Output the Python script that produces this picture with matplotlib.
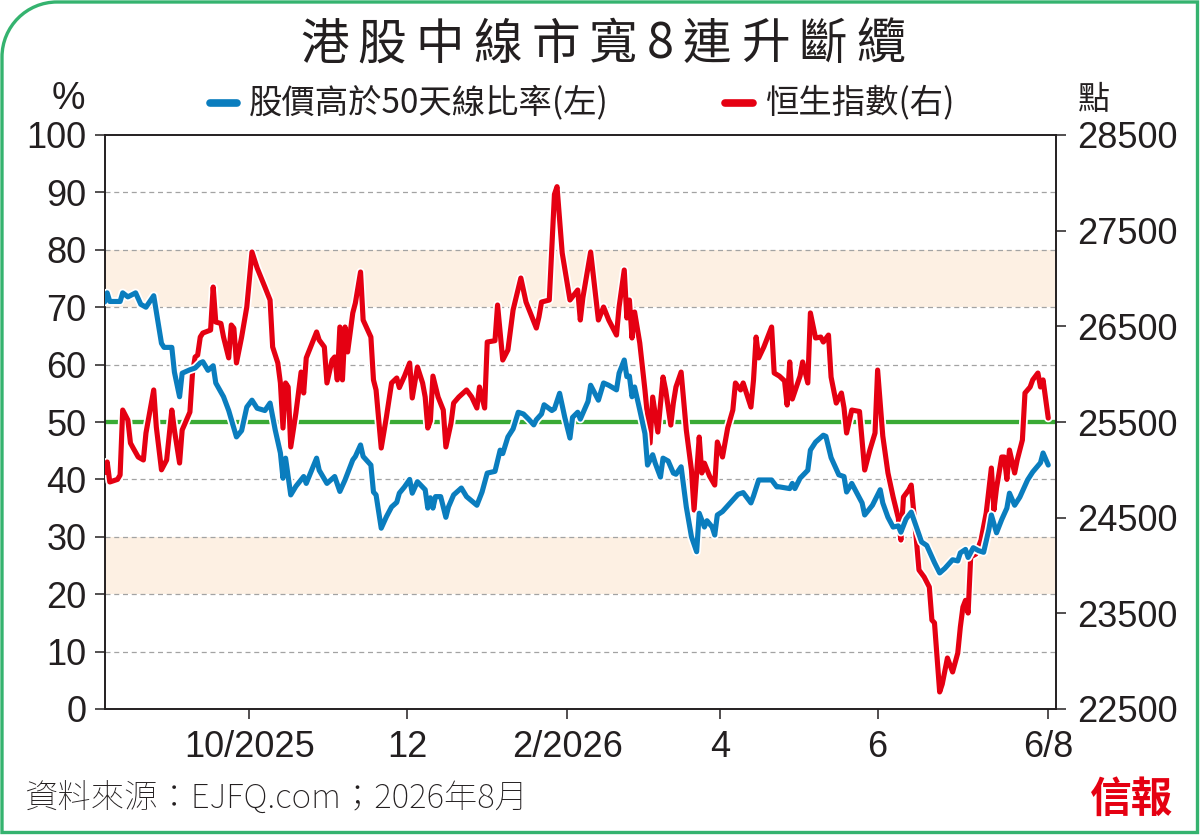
import numpy as np
import matplotlib
matplotlib.use('Agg')
import matplotlib.pyplot as plt
import matplotlib.patheffects as pe
from matplotlib import font_manager
from matplotlib.path import Path
from matplotlib.patches import PathPatch

# ---------------- data ----------------
START = '2025-08-06'   # first trading day shown; days below are counted from it

blue_days = [0, 1, 2, 6, 7, 9, 12, 14, 16, 19, 22, 23, 26, 27, 29, 30, 33, 35, 37, 38,
             40, 42, 43, 46, 48, 51, 53, 55, 57, 59, 62, 64, 66, 68, 69, 70, 72, 74, 77, 78,
             82, 83, 86, 89, 91, 93, 96, 97, 99, 100, 103, 104, 105, 107, 109, 111, 113, 114, 116, 118,
             119, 121, 124, 125, 126, 127, 128, 130, 132, 133, 135, 138, 140, 144, 146, 148, 151, 153, 154, 156,
             158, 160, 162, 164, 166, 167, 169, 170, 173, 174, 176, 178, 180, 181, 183, 184, 187, 188, 191, 193,
             195, 198, 199, 201, 202, 203, 204, 205, 207, 209, 210, 212, 213, 215, 216, 218, 220, 221, 223, 225,
             227, 229, 230, 232, 233, 235, 236, 237, 239, 242, 245, 247, 248, 250, 251, 253, 255, 258, 260, 261,
             265, 266, 267, 269, 272, 273, 275, 278, 279, 281, 284, 286, 287, 289, 291, 293, 294, 297, 300, 301,
             303, 305, 307, 308, 310, 312, 314, 316, 318, 320, 321, 323, 325, 328, 330, 331, 333, 334, 336, 338,
             340, 342, 343, 345, 347, 349, 350, 352, 354, 357, 359, 362, 363, 365]
blue_vals = [70.9, 72.5, 71.0, 71.0, 72.5, 71.8, 72.5, 70.5, 70.0, 72.0, 63.7, 63.0, 63.0, 58.7, 54.4, 58.5, 59.1, 59.4, 60.3, 60.5,
             59.0, 59.8, 56.8, 54.4, 52.0, 47.4, 48.5, 52.6, 53.8, 52.4, 52.0, 53.3, 48.6, 44.6, 40.2, 43.7, 37.3, 38.8, 40.5, 39.3,
             43.7, 41.6, 39.3, 40.5, 37.9, 39.9, 43.4, 44.0, 46.0, 44.0, 42.5, 37.8, 37.3, 31.5, 33.5, 35.2, 36.0, 37.6, 38.7, 40.0,
             37.6, 39.6, 38.2, 35.0, 36.8, 35.0, 37.0, 37.0, 33.4, 35.2, 37.3, 38.5, 37.0, 35.5, 37.8, 41.1, 41.4, 45.1, 44.5, 47.4,
             48.8, 51.7, 51.4, 50.5, 49.5, 50.4, 51.4, 53.0, 52.0, 52.3, 55.0, 50.8, 47.2, 50.8, 51.7, 50.5, 53.6, 56.4, 53.8, 56.8,
             56.4, 55.6, 58.5, 60.8, 57.9, 58.0, 54.4, 56.1, 52.1, 48.0, 42.5, 44.3, 42.8, 40.4, 43.7, 43.2, 41.1, 40.9, 42.2, 35.2,
             30.0, 27.4, 34.1, 31.7, 32.8, 31.7, 30.3, 33.8, 34.4, 35.9, 37.4, 37.7, 37.1, 35.9, 37.1, 39.9, 39.9, 39.9, 38.7, 38.7,
             38.4, 39.3, 38.4, 40.2, 41.6, 45.1, 46.5, 47.7, 47.5, 43.8, 40.8, 40.5, 37.8, 39.3, 37.6, 35.9, 33.8, 35.5, 38.2, 35.9,
             33.4, 31.7, 31.9, 30.8, 33.1, 34.3, 31.7, 29.1, 28.5, 26.5, 25.5, 23.7, 24.5, 26.0, 25.8, 27.2, 27.8, 26.4, 28.1, 27.6,
             27.3, 31.2, 33.8, 30.7, 33.0, 35.0, 37.6, 35.5, 36.9, 39.9, 41.3, 42.9, 44.6, 42.5]

red_days = [0, 1, 2, 5, 6, 7, 9, 10, 11, 13, 15, 16, 19, 20, 22, 24, 26, 27, 29, 30,
            33, 34, 35, 36, 37, 38, 41, 42, 43, 45, 46, 48, 49, 50, 51, 53, 55, 57, 59, 62,
            64, 65, 67, 68, 69, 70, 71, 72, 74, 76, 77, 78, 82, 83, 85, 86, 88, 89, 90, 91,
            92, 93, 94, 96, 97, 99, 100, 103, 104, 105, 107, 109, 111, 113, 114, 116, 118, 119, 121, 123,
            124, 125, 126, 127, 129, 131, 132, 134, 135, 137, 140, 142, 144, 145, 147, 148, 151, 152, 154, 156,
            158, 161, 163, 167, 168, 169, 172, 174, 175, 177, 180, 183, 184, 185, 188, 191, 193, 195, 198, 199,
            201, 202, 203, 204, 205, 207, 209, 211, 212, 213, 214, 216, 217, 219, 220, 221, 223, 225, 227, 228,
            230, 231, 232, 234, 236, 237, 239, 241, 243, 244, 246, 247, 250, 251, 252, 253, 255, 258, 259, 261,
            263, 264, 265, 266, 269, 270, 272, 273, 275, 277, 278, 280, 281, 283, 285, 286, 287, 289, 292, 294,
            296, 298, 299, 301, 303, 305, 307, 308, 309, 311, 312, 314, 315, 317, 319, 320, 321, 323, 324, 326,
            328, 330, 331, 332, 333, 334, 335, 337, 339, 341, 343, 344, 345, 347, 348, 349, 350, 352, 353, 355,
            356, 358, 359, 361, 362, 363, 365]
red_vals = [24970, 25082, 24873, 24900, 24946, 25625, 25520, 25280, 25230, 25134, 25103, 25385, 25835, 25448, 25000, 25103, 25625, 25416, 25071, 25416,
            25604, 26012, 26179, 26200, 26388, 26430, 26461, 26911, 26545, 26530, 26388, 26170, 26514, 26480, 26117, 26388, 26702, 27277, 27110, 26911,
            26775, 26284, 26117, 25908, 25437, 25908, 25866, 25239, 25594, 26022, 25803, 26170, 26441, 26357, 26284, 25908, 26148, 26180, 25940, 26493,
            25940, 26493, 26232, 26640, 26744, 27068, 26566, 26388, 25940, 25835, 25228, 25552, 25908, 25960, 25860, 25980, 26117, 25751, 26075, 25908,
            25761, 25437, 25510, 25980, 25761, 25625, 25239, 25490, 25698, 25761, 25835, 25761, 25646, 25866, 25646, 26336, 26350, 26723, 26148, 26253,
            26671, 27005, 26754, 26482, 26598, 26754, 26775, 27880, 27960, 27267, 26775, 26880, 26566, 26800, 27277, 26566, 26702, 26566, 26409, 26702,
            27089, 26587, 26775, 26378, 26650, 26326, 25835, 25280, 25761, 25580, 25395, 25970, 25835, 25468, 25700, 25866, 26022, 25416, 24998, 24580,
            25343, 24967, 25070, 24935, 24841, 25291, 25134, 25437, 25625, 25908, 25835, 25908, 25656, 25940, 26388, 26170, 26284, 26493, 26012, 25980,
            25930, 25677, 26128, 25740, 25980, 26128, 25908, 26640, 26378, 26388, 26336, 26409, 25970, 25698, 25803, 25650, 25385, 25625, 25610, 24998,
            25207, 25385, 26043, 25354, 24967, 24716, 24496, 24266, 24716, 24789, 24841, 24266, 23953, 23880, 23775, 23430, 23400, 22678, 22760, 23033,
            22887, 23085, 23357, 23566, 23636, 23503, 24089, 24120, 24266, 24549, 25019, 24580, 24810, 25134, 25134, 24900, 25207, 24967, 25103, 25312,
            25803, 25866, 25940, 26012, 25866, 25940, 25541]

tick_dates = ['2025-10-01', '2025-12-01', '2026-02-01', '2026-04-01', '2026-06-01', '2026-08-06']
tick_labels = ['10/2025', '12', '2/2026', '4', '6', '6/8']
left_ticks = list(range(0, 101, 10))
right_ticks = list(range(22500, 28501, 1000))
bands = [(20, 30), (70, 80)]
ref_level = 50
x_end = '2026-08-09'

title = '港股中線市寬8連升斷纜'
blue_label = '股價高於50天線比率(左)'
red_label = '恒生指數(右)'
left_unit = '%'
right_unit = '點'
source = '資料來源：EJFQ.com；2026年8月'
logo = '信報'

# ---------------- style ----------------
BLUE = '#0A7DBE'
RED = '#E50012'
GREEN = '#3AAA35'
BAND = '#FDF0E3'
GRID = '#A3A3A3'
TXT = '#231F20'
FRAME = '#35B36F'

avail = {f.name for f in font_manager.fontManager.ttflist}
NUM = 'Liberation Sans Narrow' if 'Liberation Sans Narrow' in avail else 'Liberation Sans'
CJK = 'Noto Sans CJK TC'
FS_NUM = 26

# look for a light sans CJK face for the footer (falls back to regular)
LIGHT_FAM, LIGHT_W = CJK, 'normal'
for f in font_manager.fontManager.ttflist:
    w = f.weight if isinstance(f.weight, int) else font_manager.weight_dict.get(f.weight, 400)
    if 'Sans CJK' in f.name and w <= 350:
        LIGHT_FAM, LIGHT_W = f.name, f.weight
        if 'TC' in f.name:
            break

W, H = 1200, 835
fig = plt.figure(figsize=(W / 100, H / 100), dpi=100)
L, R, T, B = 104.6, 1056, 135, 709
ax = fig.add_axes([L / W, 1 - B / H, (R - L) / W, (B - T) / H])


def to_dt(days):
    return np.datetime64(START) + np.array(days).astype('timedelta64[D]')


blue_x = to_dt(blue_days)
red_x = to_dt(red_days)

# background bands, grid, reference line
for lo, hi in bands:
    ax.axhspan(lo, hi, color=BAND, lw=0, zorder=0)
for v in left_ticks[1:-1]:
    ax.axhline(v, color=GRID, lw=0.9, ls=(0, (4, 3)), zorder=1)
ax.axhline(ref_level, color=GREEN, lw=3.1, zorder=2)

ax.set_ylim(0, 100)
ax.set_yticks(left_ticks)
ax.set_yticklabels([str(v) for v in left_ticks], fontfamily=NUM, fontsize=FS_NUM, color=TXT)
ax.set_xlim(np.datetime64(START), np.datetime64(x_end))
ax.set_xticks([np.datetime64(d) for d in tick_dates])
ax.set_xticklabels(tick_labels, fontfamily=NUM, fontsize=FS_NUM, color=TXT)
ax.tick_params(axis='y', direction='out', length=7, width=1.1, pad=6, colors=TXT)
ax.tick_params(axis='x', direction='out', length=7, width=1.1, pad=8, colors=TXT)
for s in ax.spines.values():
    s.set_linewidth(1.2)
    s.set_color(TXT)

stroke = [pe.Stroke(linewidth=6.2, foreground='white'), pe.Normal()]

axr = ax.twinx()
axr.plot(red_x, red_vals, color=RED, lw=3.7, solid_joinstyle='round', solid_capstyle='round',
         path_effects=stroke, zorder=3)
axr.set_ylim(22500, 28500)
axr.set_yticks(right_ticks)
axr.set_yticklabels([str(v) for v in right_ticks], fontfamily=NUM, fontsize=FS_NUM, color=TXT)
axr.tick_params(axis='y', direction='out', length=7, width=1.1, pad=8, colors=TXT)
for s in axr.spines.values():
    s.set_linewidth(1.2)
    s.set_color(TXT)

axb = ax.twinx()
axb.plot(blue_x, blue_vals, color=BLUE, lw=3.7, solid_joinstyle='round', solid_capstyle='round',
         path_effects=stroke, zorder=4)
axb.set_ylim(0, 100)
axb.set_yticks([])
for s in axb.spines.values():
    s.set_visible(False)

# ---------------- overlay for annotations ----------------
ov = fig.add_axes([0, 0, 1, 1], zorder=10)
ov.set_xlim(0, W)
ov.set_ylim(H, 0)
ov.axis('off')
ov.patch.set_visible(False)

renderer = fig.canvas.get_renderer()


def spaced_text(s, x0, x1, y, **kw):
    widths = []
    for ch in s:
        t = ov.text(0, 0, ch, **kw)
        widths.append(t.get_window_extent(renderer).width)
        t.remove()
    gap = (x1 - x0 - sum(widths)) / (len(s) - 1)
    x = x0
    for ch, w in zip(s, widths):
        ov.text(x, y, ch, ha='left', va='center', **kw)
        x += w + gap


spaced_text(title, 300, 905, 45, fontsize=35, family=[CJK, 'DejaVu Sans'], color=TXT, weight='medium')

# legend
ov.plot([210, 237], [103, 103], color=BLUE, lw=5.5, solid_capstyle='round')
ov.text(249, 103, blue_label, ha='left', va='center', fontsize=24, family=[CJK, 'DejaVu Sans'], color=TXT)
ov.plot([725, 753], [103, 103], color=RED, lw=5.5, solid_capstyle='round')
ov.text(765, 103, red_label, ha='left', va='center', fontsize=24, family=[CJK, 'DejaVu Sans'], color=TXT)

# units
ov.text(68, 99, left_unit, ha='center', va='center', fontsize=FS_NUM + 1, family=NUM, color=TXT)
ov.text(1094, 100, right_unit, ha='center', va='center', fontsize=23, family=[CJK, 'DejaVu Sans'], color=TXT)

# footer
ov.text(24, 799, source, ha='left', va='center', fontsize=24, family=[LIGHT_FAM, 'DejaVu Sans'], color=TXT,
        weight=LIGHT_W)
ov.text(1132, 800, logo, ha='center', va='center', fontsize=30, family=[CJK, 'DejaVu Sans'], color=RED,
        weight='heavy')

# frame with rounded top-left corner
r = 55
k = 0.5523
x0, y0, x1, y1 = 2, 2, 1197.5, 832.5
verts = [(x0, y1), (x0, y0 + r), (x0, y0 + r - k * r), (x0 + r - k * r, y0), (x0 + r, y0),
         (x1, y0), (x1, y1), (x0, y1)]
codes = [Path.MOVETO, Path.LINETO, Path.CURVE4, Path.CURVE4, Path.CURVE4, Path.LINETO, Path.LINETO, Path.CLOSEPOLY]
ov.add_patch(PathPatch(Path(verts, codes), facecolor='none', edgecolor=FRAME, lw=2.4))

fig.savefig('out.png', dpi=100)
